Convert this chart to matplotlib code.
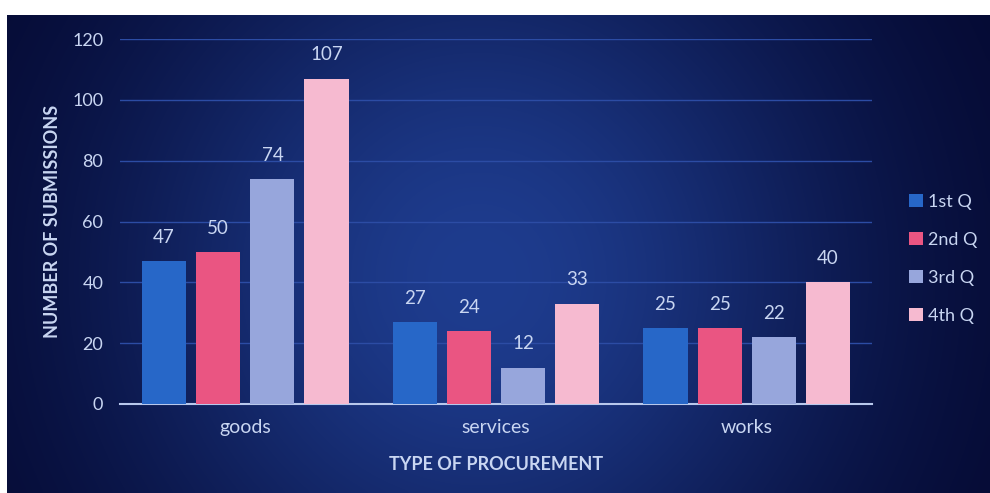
import numpy as np
import matplotlib
matplotlib.use("Agg")
import matplotlib.pyplot as plt
from matplotlib.patches import Patch

categories = ["goods", "services", "works"]
series = ["1st Q", "2nd Q", "3rd Q", "4th Q"]
q1 = [47, 27, 25]
q2 = [50, 24, 25]
q3 = [74, 12, 22]
q4 = [107, 33, 40]
values = [q1, q2, q3, q4]
colors = ["#2767c8", "#ea5582", "#97a6dc", "#f6bad0"]
yticks = [0, 20, 40, 60, 80, 100, 120]

plt.rcParams['font.family'] = ['Lato', 'DejaVu Sans']
txt = "#c9d6f2"

fig = plt.figure(figsize=(9.9, 4.93), dpi=100)
fig.patch.set_facecolor("white")

# background panel
bg = fig.add_axes([7/990, 0, 983/990, 478/493])
bg.set_axis_off()
h, w = 120, 240
yy, xx = np.mgrid[0:h, 0:w]
xn = xx / (w - 1)
yn = yy / (h - 1)
glow = np.exp(-(((xn - 0.48) / 0.38) ** 2) - (((yn - 0.55) / 0.8) ** 2))
dark = np.array([0x03, 0x06, 0x2c]) / 255
light = np.array([0x1e, 0x3c, 0x8e]) / 255
img = dark[None, None, :] + glow[..., None] * (light - dark)[None, None, :]
bg.imshow(img, aspect="auto", extent=[0, 1, 0, 1], interpolation="bicubic")
bg.set_xlim(0, 1)
bg.set_ylim(0, 1)

ax = fig.add_axes([120/990, (493-404)/493, (872-120)/990, (404-39)/493])
ax.set_facecolor("none")
x = np.arange(len(categories))
bw = 0.176
step = 0.216
for i, (vals, c, name) in enumerate(zip(values, colors, series)):
    pos = x + (i - 1.5) * step
    bars = ax.bar(pos, vals, width=bw, color=c, label=name, zorder=3)
    for b, v in zip(bars, vals):
        ax.text(b.get_x() + b.get_width() / 2, v + 5, str(v), ha="center",
                va="bottom", color=txt, fontsize=13.5, zorder=4)

ax.set_xlim(-0.5, 2.5)
ax.set_ylim(0, 120)
ax.set_yticks(yticks)
ax.set_yticklabels([str(t) for t in yticks], color=txt, fontsize=13)
ax.set_xticks(x)
ax.set_xticklabels(categories, color=txt, fontsize=14)
ax.tick_params(axis="y", length=0, pad=12)
ax.tick_params(axis="x", length=0, pad=11)
ax.grid(axis="y", color="#2c4ca4", linewidth=1, zorder=1)
for s in ["top", "right", "left"]:
    ax.spines[s].set_visible(False)
ax.spines["bottom"].set_color("#b8c8ec")
ax.spines["bottom"].set_linewidth(1.5)
ax.set_ylabel("NUMBER OF SUBMISSIONS", color=txt, fontsize=13, fontweight="bold", labelpad=8)
ax.set_xlabel("TYPE OF PROCUREMENT", color=txt, fontsize=13, fontweight="bold", labelpad=14)

handles = [Patch(facecolor=c, label=n) for c, n in zip(colors, series)]
leg = fig.legend(handles=handles, loc="center left", bbox_to_anchor=(893/990, (493-259)/493),
                 frameon=False, fontsize=13, handlelength=0.75, handleheight=0.75,
                 handletextpad=0.3, labelspacing=1.22, labelcolor=txt)

fig.savefig("out.png", dpi=100, facecolor=fig.get_facecolor())
